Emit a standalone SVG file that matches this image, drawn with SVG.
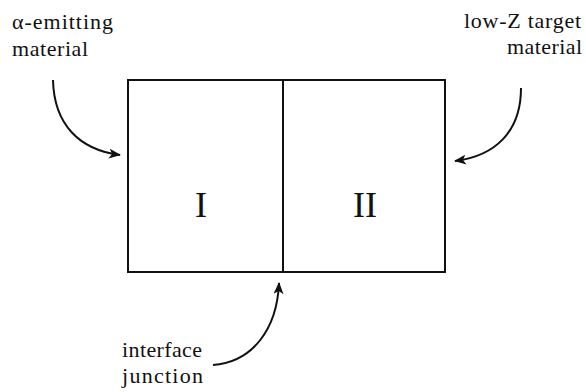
<svg xmlns="http://www.w3.org/2000/svg" width="586" height="392" viewBox="0 0 586 392">
<style>
.lbl{font-family:'Liberation Serif','DejaVu Serif',serif;font-size:22px;fill:#111}
.big{font-family:'Liberation Serif','DejaVu Serif',serif;font-size:36px;fill:#111;text-anchor:middle}
.box{fill:none;stroke:#111;stroke-width:2}
.conn{fill:none;stroke:#111;stroke-width:2}
</style>
<defs>
<marker id="ah" viewBox="0 0 12 10" refX="11" refY="5" markerWidth="12" markerHeight="10" markerUnits="userSpaceOnUse" orient="auto">
<path d="M0,0 L12,5 L0,10 L3,5 Z" fill="#111"/>
</marker>
</defs>
<rect width="586" height="392" fill="#fff"/>
<g id="region-I">
<rect class="box" x="128" y="80" width="155" height="192"/>
<text class="big" x="201" y="217">I</text>
</g>
<g id="region-II">
<rect class="box" x="283" y="80" width="162" height="192"/>
<text class="big" x="365" y="217">II</text>
</g>
<g id="label-alpha">
<text class="lbl" x="12" y="29" textLength="101" lengthAdjust="spacing">α-emitting</text>
<text class="lbl" x="12" y="56" textLength="76" lengthAdjust="spacing">material</text>
</g>
<g id="label-lowz">
<text class="lbl" x="464" y="28" textLength="117" lengthAdjust="spacing">low-Z target</text>
<text class="lbl" x="507" y="54" textLength="75" lengthAdjust="spacing">material</text>
</g>
<g id="label-interface">
<text class="lbl" x="122" y="357" textLength="80" lengthAdjust="spacing">interface</text>
<text class="lbl" x="122" y="383" textLength="81" lengthAdjust="spacing">junction</text>
</g>
<g id="connectors">
<path class="conn" marker-end="url(#ah)" d="M53,80 C54,125 80,150 120,155"/>
<path class="conn" marker-end="url(#ah)" d="M521,88 C521,132 495,156 455,161"/>
<path class="conn" marker-end="url(#ah)" d="M213,365 C252,362 277,330 279,283"/>
</g>
</svg>
